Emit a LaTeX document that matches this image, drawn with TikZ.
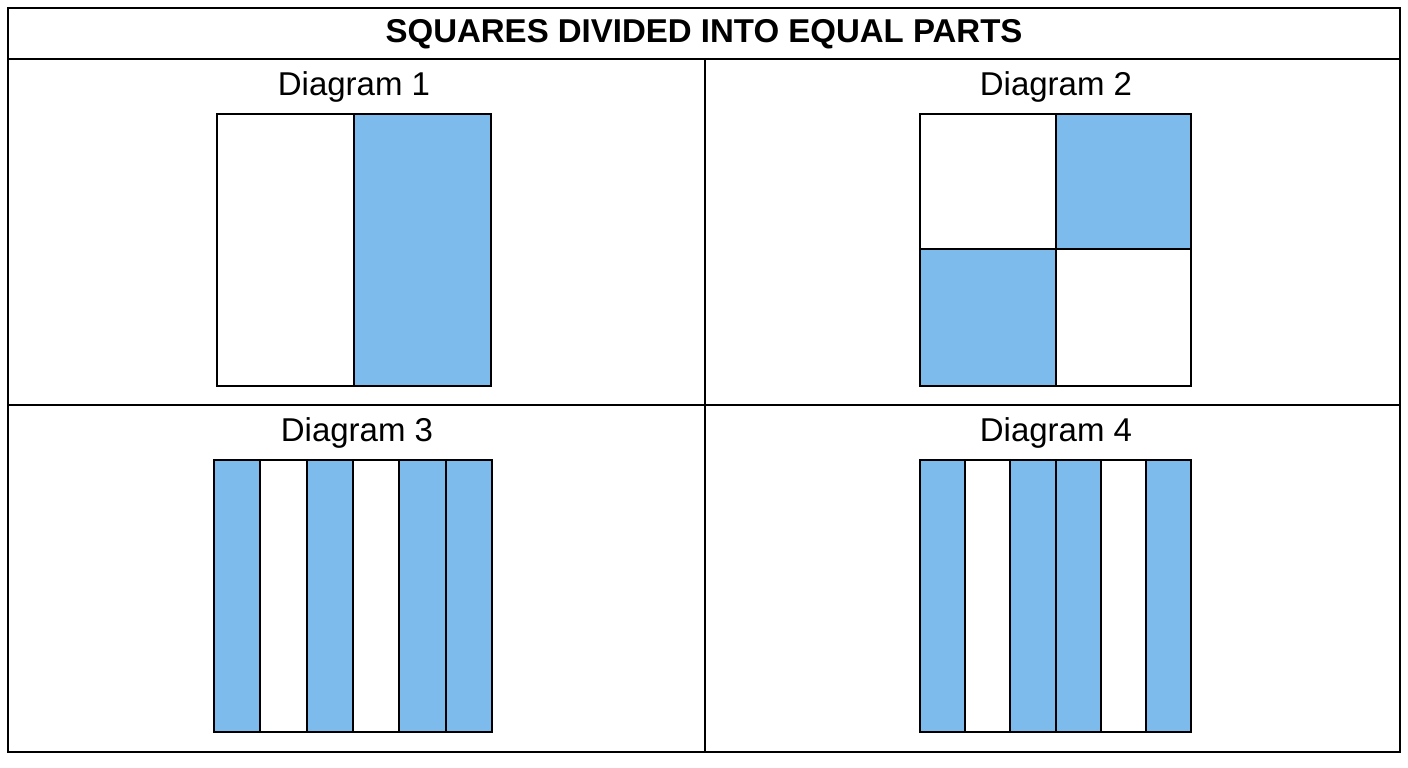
\documentclass[tikz,border=0pt]{standalone}
\usepackage{fontspec}
\setmainfont{Liberation Sans}
\usepackage{tikz}
\definecolor{partblue}{RGB}{124,187,236}
\tikzset{
    headtext/.style={inner sep=0pt, font=\fontsize{33}{40}\selectfont\bfseries},
    diaglabel/.style={inner sep=0pt, font=\fontsize{33}{40}\selectfont},
    part/.style={draw, line width=2pt}
}

\begin{document}
\begin{tikzpicture}[x=1pt, y=-1pt, line width=2pt]
    \useasboundingbox (0,0) rectangle (1408,768);
    % frame and grid
    \draw (8,8) rectangle (1400,752);
    \draw (8,59) -- (1400,59);
    \draw (705,59) -- (705,752);
    \draw (8,405) -- (1400,405);
    \node[headtext] (T) at (704,34) {SQUARES DIVIDED INTO EQUAL PARTS};
    \node[diaglabel] (L1) at (354,87) {Diagram 1};
    \node[diaglabel] (L2) at (1056,87) {Diagram 2};
    \node[diaglabel] (L3) at (357,433) {Diagram 3};
    \node[diaglabel] (L4) at (1056,433) {Diagram 4};
    % diagram 1: halves
    \fill[partblue] (354,114) rectangle (491,386);
    \draw[part] (217,114) rectangle (491,386);
    \draw[part] (354,114) -- (354,386);
    % diagram 2: quarters
    \fill[partblue] (1056,114) rectangle (1191,249);
    \fill[partblue] (920,249) rectangle (1056,386);
    \draw[part] (920,114) rectangle (1191,386);
    \draw[part] (1056,114) -- (1056,386);
    \draw[part] (920,249) -- (1191,249);
    % diagram 3: sixths
    \foreach \i/\c in {0/partblue, 1/white, 2/partblue, 3/white, 4/partblue, 5/partblue}
        \draw[part, fill=\c] (214+46.33*\i,460) rectangle (214+46.33*\i+46.33,732);
    % diagram 4: sixths
    \foreach \i/\c in {0/partblue, 1/white, 2/partblue, 3/partblue, 4/white, 5/partblue}
        \draw[part, fill=\c] (920+45.17*\i,460) rectangle (920+45.17*\i+45.17,732);
\end{tikzpicture}
\end{document}
